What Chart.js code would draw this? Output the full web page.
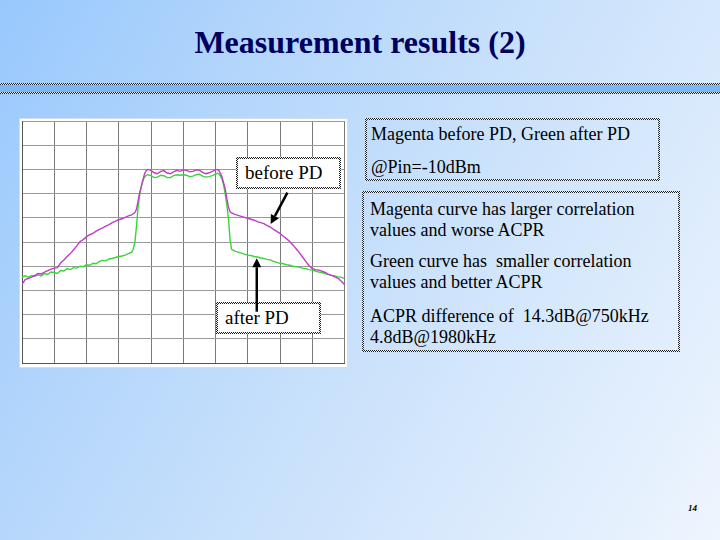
<!DOCTYPE html>
<html>
<head>
<meta charset="utf-8">
<script src="https://cdn.jsdelivr.net/npm/chart.js@4"></script>
<style>
  html, body { margin:0; padding:0; }
  body { width:720px; height:540px; overflow:hidden; position:relative;
         background: linear-gradient(120deg, #98c8fd 0%, #b6d7fb 30%, #d6e8fc 70%, #eef5fe 100%);
         font-family: "Liberation Serif", "Times New Roman", serif; color:#000; }
  .abs { position:absolute; }
  #title { left:0; top:26px; width:720px; text-align:center; font-weight:bold; font-size:32px;
           line-height:32px; color:#00005e; }
  .chk { background: repeating-conic-gradient(#1e1e1e 0 25%, #e6eefa 0 50%) 0 0/2px 2px; }
  #sepTop { left:0; top:83px; width:720px; height:2px; }
  #sepMid { left:0; top:85px; width:720px; height:7px; background:#7ab6f8; }
  #sepBot { left:0; top:92px; width:720px; height:2px; }
  .box { position:absolute; box-sizing:border-box; }
  .box::before { content:''; position:absolute; inset:0; padding:2px;
    background: repeating-conic-gradient(#1e1e1e 0 25%, #f2f5fa 0 50%) 0 0/2px 2px;
    -webkit-mask: linear-gradient(#000 0 0) content-box, linear-gradient(#000 0 0);
    -webkit-mask-composite: xor; mask-composite: exclude; }
  .txt { position:absolute; font-size:18px; line-height:20.5px; white-space:nowrap; }
  #plotFrame { left:20px; top:119px; width:327px; height:248px; background:#fff;
               box-shadow: 0 0 0 1px #d4dde8; }
  #chartCanvas { position:absolute; left:0; top:0; }
  #overlay { position:absolute; left:0; top:0; z-index:5; pointer-events:none; }
  .pbox { background:#fff; z-index:3; }
  .ptxt { position:absolute; font-size:19px; line-height:20px; white-space:nowrap; z-index:4; }
  #pg { left:688px; top:503px; font-size:9px; line-height:10px; font-style:italic; font-weight:bold; }
</style>
</head>
<body>
<div id="title" class="abs">Measurement results (2)</div>
<div id="sepTop" class="abs chk"></div>
<div id="sepMid" class="abs"></div>
<div id="sepBot" class="abs chk"></div>

<div id="plotFrame" class="abs">
  <canvas id="chartCanvas" width="327" height="248"></canvas>
  <div class="box pbox" style="left:216px; top:38px; width:105px; height:32px;"></div>
  <div class="ptxt" style="left:225px; top:44px;">before PD</div>
  <div class="box pbox" style="left:196px; top:183px; width:105px; height:32px;"></div>
  <div class="ptxt" style="left:205px; top:189px;">after PD</div>
  <canvas id="overlay" width="327" height="248"></canvas>
</div>

<div class="box" style="left:365px; top:118px; width:295px; height:63px;"></div>
<div class="txt" style="left:371px; top:124px;">Magenta before PD, Green after PD</div>
<div class="txt" style="left:371px; top:157px;">@Pin=-10dBm</div>

<div class="box" style="left:362px; top:191px; width:318px; height:161px;"></div>
<div class="txt" style="left:370px; top:199px;">Magenta curve has larger correlation<br>values and worse ACPR</div>
<div class="txt" style="left:370px; top:251px;">Green curve has&nbsp; smaller correlation<br>values and better ACPR</div>
<div class="txt" style="left:370px; top:306px;">ACPR difference of&nbsp; 14.3dB@750kHz<br>4.8dB@1980kHz</div>

<div id="pg" class="abs">14</div>

<script>
// Frequency axis in screen divisions (0..10), amplitude in divisions (0..10)
const freqDiv = [0,0.1,0.2,0.3,0.4,0.5,0.6,0.7,0.8,0.9,
  1,1.1,1.2,1.3,1.4,1.5,1.6,1.7,1.8,1.9,
  2,2.1,2.2,2.3,2.4,2.5,2.6,2.7,2.8,2.9,
  3,3.1,3.2,3.3,3.4,3.45,3.5,3.55,3.6,3.65,3.7,3.75,3.8,3.85,3.9,
  4,4.1,4.2,4.3,4.4,4.5,4.6,4.7,4.8,4.9,5,5.1,5.2,5.3,5.4,5.5,5.6,5.7,5.8,5.9,6,
  6.05,6.1,6.15,6.2,6.25,6.3,6.35,6.4,6.45,6.5,
  6.6,6.7,6.8,6.9,7,7.1,7.2,7.3,7.4,7.5,7.6,7.7,7.8,7.9,
  8,8.1,8.2,8.3,8.4,8.5,8.6,8.7,8.8,8.9,
  9,9.1,9.2,9.3,9.4,9.5,9.6,9.7,9.8,9.9,10];

const magentaBeforePD = [3.25,3.45,3.50,3.55,3.62,3.70,3.68,3.76,3.82,3.88,
  3.92,3.94,4.14,4.26,4.40,4.52,4.68,4.84,5.02,5.10,
  5.22,5.30,5.36,5.45,5.52,5.58,5.66,5.72,5.80,5.86,
  5.92,5.96,6.02,6.08,6.12,6.17,6.22,6.35,6.70,7.05,7.30,7.55,7.82,7.95,8.00,
  7.96,7.86,7.82,7.92,7.95,7.85,7.82,7.90,7.96,7.92,7.98,7.96,7.90,7.92,7.98,7.97,7.88,7.82,7.86,7.92,7.98,
  8.00,7.96,7.85,7.70,7.45,7.20,6.80,6.45,6.25,6.20,
  6.14,6.10,6.06,6.02,5.98,5.94,5.90,5.84,5.80,5.76,5.68,5.62,5.52,5.44,
  5.36,5.24,5.14,5.02,4.88,4.72,4.56,4.38,4.20,4.02,
  3.90,3.86,3.84,3.80,3.74,3.66,3.62,3.56,3.50,3.38,3.24];

const greenAfterPD = [3.55,3.60,3.54,3.62,3.58,3.64,3.60,3.70,3.66,3.76,
  3.74,3.70,3.82,3.80,3.90,3.86,3.94,3.92,4.00,3.98,
  4.06,4.04,4.12,4.10,4.20,4.24,4.22,4.30,4.32,4.36,
  4.40,4.42,4.46,4.52,4.58,4.70,4.98,5.65,6.45,6.95,7.30,7.55,7.68,7.75,7.78,
  7.74,7.66,7.68,7.76,7.74,7.66,7.66,7.74,7.78,7.76,7.78,7.76,7.70,7.72,7.78,7.80,7.72,7.68,7.70,7.74,7.80,
  7.84,7.82,7.74,7.60,7.35,7.00,6.55,6.00,5.10,4.70,
  4.62,4.58,4.54,4.50,4.46,4.44,4.40,4.38,4.34,4.32,4.28,4.26,4.20,4.16,
  4.12,4.10,4.06,4.04,4.00,3.98,3.96,3.92,3.90,3.86,
  3.84,3.80,3.76,3.74,3.68,3.66,3.62,3.60,3.56,3.54,3.50];

// Annotation arrows in data units: [fromX, fromY, toX, toY]
const arrowBefore = [8.23, 7.04, 7.71, 5.74];
const arrowAfter = [7.28, 2.12, 7.28, 4.33];

function drawArrow(ctx, x1, y1, x2, y2) {
  const ang = Math.atan2(y2 - y1, x2 - x1);
  const hl = 9, hw = 4.5;
  const bx = x2 - hl * Math.cos(ang), by = y2 - hl * Math.sin(ang);
  ctx.strokeStyle = '#000'; ctx.fillStyle = '#000'; ctx.lineWidth = 2.5;
  ctx.beginPath(); ctx.moveTo(x1, y1); ctx.lineTo(bx, by); ctx.stroke();
  ctx.beginPath();
  ctx.moveTo(x2, y2);
  ctx.lineTo(bx + hw * Math.sin(ang), by - hw * Math.cos(ang));
  ctx.lineTo(bx - hw * Math.sin(ang), by + hw * Math.cos(ang));
  ctx.closePath(); ctx.fill();
}

const arrowPlugin = {
  id: 'arrows',
  afterRender(chart) {
    const o = document.getElementById('overlay').getContext('2d');
    o.clearRect(0, 0, 327, 248);
    const xs = chart.scales.x, ys = chart.scales.y;
    [arrowBefore, arrowAfter].forEach(a => {
      drawArrow(o, xs.getPixelForValue(a[0]), ys.getPixelForValue(a[1]),
                   xs.getPixelForValue(a[2]), ys.getPixelForValue(a[3]));
    });
  }
};

new Chart(document.getElementById('chartCanvas'), {
  type: 'line',
  data: {
    datasets: [
      { label: 'before PD', data: freqDiv.map((x, i) => ({ x, y: magentaBeforePD[i] })),
        borderColor: '#c03cc8', borderWidth: 1.4, pointRadius: 0, tension: 0, fill: false },
      { label: 'after PD', data: freqDiv.map((x, i) => ({ x, y: greenAfterPD[i] })),
        borderColor: '#3ad43a', borderWidth: 1.4, pointRadius: 0, tension: 0, fill: false }
    ]
  },
  options: {
    responsive: false, animation: false, devicePixelRatio: 1,
    layout: { padding: { left: 2, top: 2, right: 2.5, bottom: 4 } },
    plugins: { legend: { display: false }, tooltip: { enabled: false } },
    scales: {
      x: { type: 'linear', min: 0, max: 10,
           ticks: { display: false, stepSize: 1 },
           grid: { color: '#7a7a7a', drawTicks: false, lineWidth: 1 },
           border: { color: '#555' },
           afterFit(s) { s.height = 0; } },
      y: { type: 'linear', min: 0, max: 10,
           ticks: { display: false, stepSize: 1 },
           grid: { color: '#9a9a9a', drawTicks: false, lineWidth: 1 },
           border: { color: '#555' },
           afterFit(s) { s.width = 0; } }
    }
  },
  plugins: [arrowPlugin]
});
</script>
</body>
</html>
